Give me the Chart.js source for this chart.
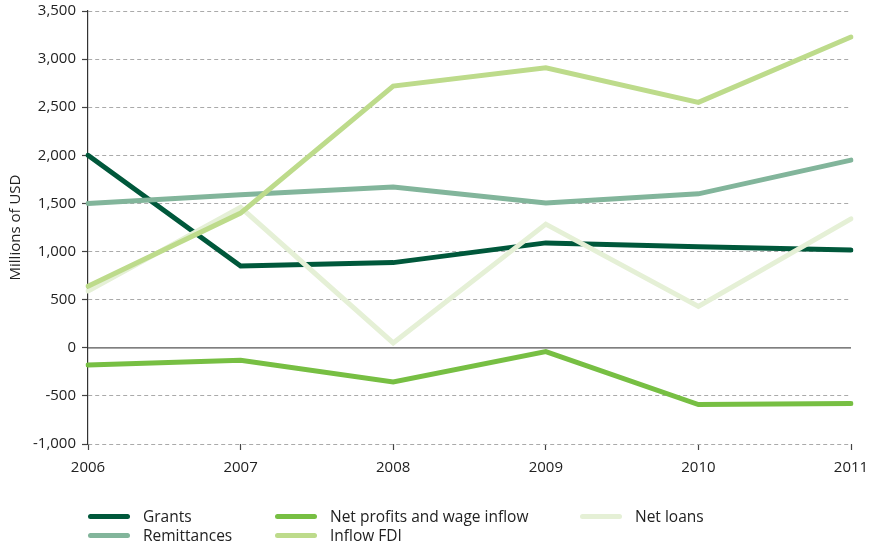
<!DOCTYPE html>
<html>
<head>
<meta charset="utf-8">
<script src="https://cdn.jsdelivr.net/npm/chart.js@4"></script>
<style>
  html, body { margin: 0; padding: 0; background: #fff; }
  #wrap { position: relative; width: 869px; height: 547px; overflow: hidden; }
  #box { position: absolute; left: 0; top: 0; width: 869px; height: 490px; }
  #legend { position: absolute; left: 0; top: 0; width: 869px; height: 547px; pointer-events: none;
            font-family: "Open Sans", sans-serif; font-size: 15.5px; color: #222; }
  .item { position: absolute; display: flex; align-items: center; height: 20px; white-space: nowrap; }
  .sw { width: 42px; height: 5px; border-radius: 3px; margin-right: 13px; }
</style>
</head>
<body>
<div id="wrap">
  <div id="box"><canvas id="c"></canvas></div>
  <div id="legend"></div>
</div>
<script>
const years = ["2006", "2007", "2008", "2009", "2010", "2011"];
const grants = [2000, 850, 885, 1090, 1050, 1015];
const remittances = [1500, 1590, 1670, 1505, 1600, 1950];
const netProfits = [-180, -130, -355, -40, -590, -580];
const inflowFDI = [640, 1400, 2720, 2910, 2550, 3230];
const netLoans = [590, 1460, 50, 1285, 430, 1340];
const seriesNames = ["Grants", "Remittances", "Net profits and wage inflow", "Inflow FDI", "Net loans"];
const seriesColors = ["#00583b", "#82b59b", "#77bf43", "#bddb8b", "#e5f0d6"];
const yMin = -1000, yMax = 3500, yStep = 500;

const seriesData = [grants, remittances, netProfits, inflowFDI, netLoans];
const drawOrder = [4, 3, 2, 0, 1];

const datasets = seriesNames.map((name, i) => ({
  label: name,
  data: seriesData[i],
  borderColor: seriesColors[i],
  backgroundColor: seriesColors[i],
  borderWidth: 5,
  pointRadius: 0,
  pointHoverRadius: 0,
  tension: 0,
  fill: false,
  borderCapStyle: 'round',
  order: drawOrder[i]
}));

const zeroLine = {
  id: 'zeroLine',
  beforeDatasetsDraw(chart) {
    const y = chart.scales.y.getPixelForValue(0);
    const a = chart.chartArea;
    const ctx = chart.ctx;
    ctx.save();
    ctx.strokeStyle = '#555';
    ctx.lineWidth = 1.2;
    ctx.beginPath();
    ctx.moveTo(a.left, y);
    ctx.lineTo(a.right, y);
    ctx.stroke();
    ctx.restore();
  }
};

const fontFam = '"Open Sans", sans-serif';

new Chart(document.getElementById('c'), {
  type: 'line',
  data: { labels: years, datasets },
  plugins: [zeroLine],
  options: {
    responsive: true,
    maintainAspectRatio: false,
    animation: false,
    events: [],
    layout: { padding: { top: 11, right: 18, left: 0, bottom: 0 } },
    plugins: { legend: { display: false }, tooltip: { enabled: false } },
    scales: {
      x: {
        offset: false,
        afterFit(scale) { scale.height = 46; scale.paddingRight = 0; scale.paddingLeft = 0; },
        border: { display: false },
        grid: { drawOnChartArea: false, drawTicks: true, tickLength: 6, tickColor: '#444', tickWidth: 1.2 },
        ticks: { color: '#222', padding: 9, maxRotation: 0, font: { family: fontFam, size: 15 } }
      },
      y: {
        min: yMin, max: yMax,
        afterFit(scale) { scale.width = 88; scale.paddingTop = 0; scale.paddingBottom = 0; },
        border: { display: true, color: '#333', width: 1.2, dash: [4, 3] },
        grid: {
          color: (ctx) => (ctx.tick && ctx.tick.value === 0) ? 'rgba(0,0,0,0)' : '#aaa',
          lineWidth: 1,
          tickLength: 6,
          tickColor: '#444',
          tickWidth: 1.2
        },
        ticks: {
          stepSize: yStep,
          color: '#222',
          padding: 6,
          font: { family: fontFam, size: 15 },
          callback: (v) => v.toLocaleString('en-US')
        },
        title: {
          display: true,
          text: 'Millions of USD',
          color: '#222',
          font: { family: fontFam, size: 15 },
          padding: { top: 7, bottom: 0 }
        }
      }
    }
  }
});

// Custom column-major legend
const legendPos = [
  [88, 506], [88, 525], [275, 506], [275, 525], [580, 506]
];
const legendOrder = [0, 1, 2, 3, 4];
const leg = document.getElementById('legend');
legendOrder.forEach((si, k) => {
  const d = document.createElement('div');
  d.className = 'item';
  d.style.left = legendPos[k][0] + 'px';
  d.style.top = legendPos[k][1] + 'px';
  const sw = document.createElement('span');
  sw.className = 'sw';
  sw.style.background = seriesColors[si];
  const t = document.createElement('span');
  t.textContent = seriesNames[si];
  d.appendChild(sw); d.appendChild(t);
  leg.appendChild(d);
});
</script>
</body>
</html>
